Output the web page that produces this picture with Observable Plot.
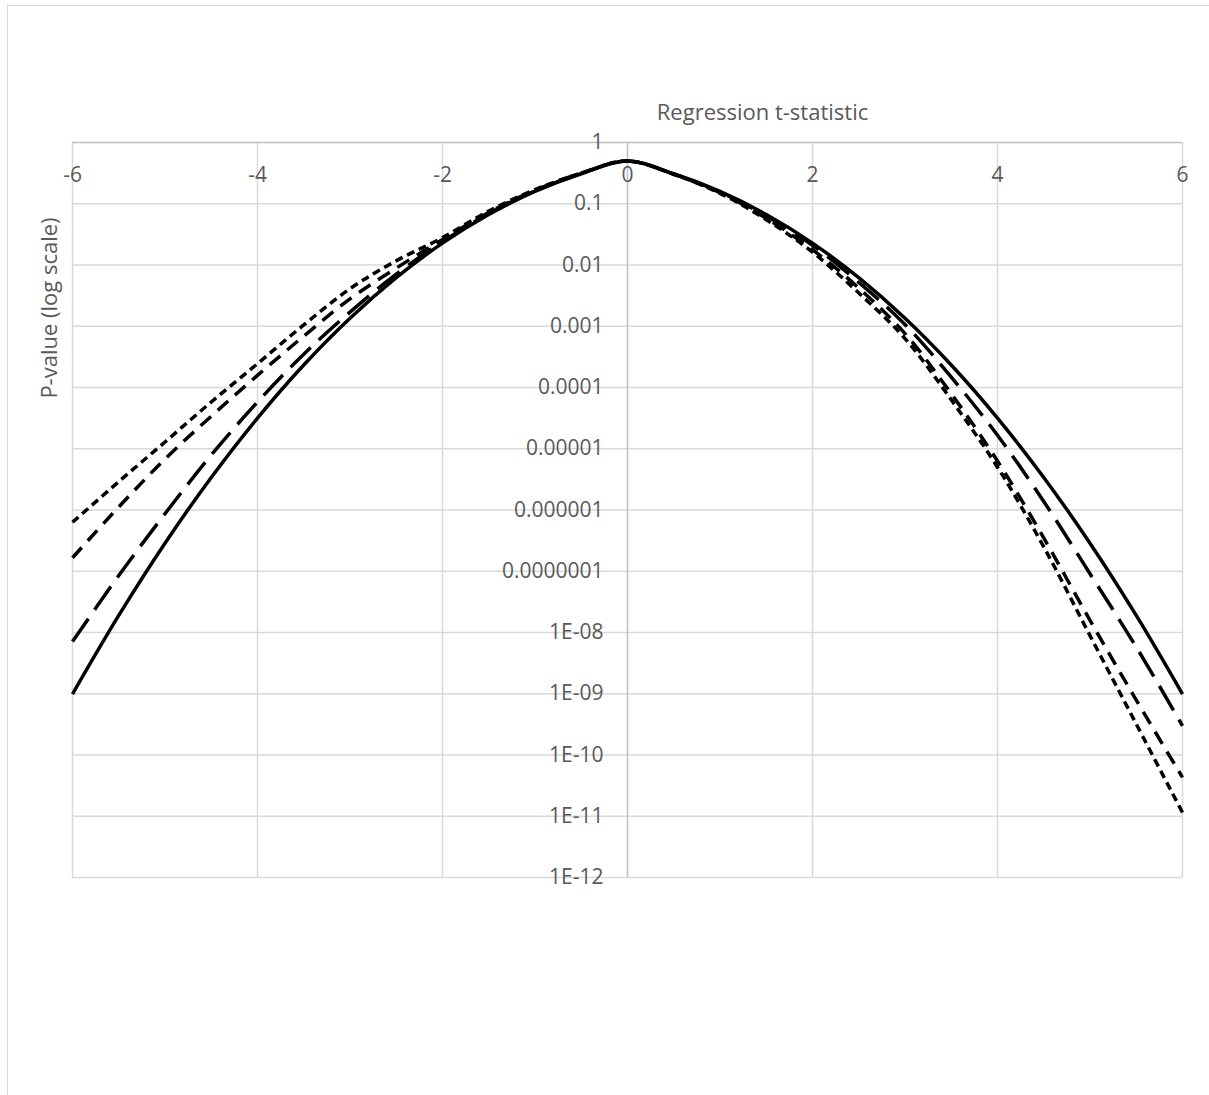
<!DOCTYPE html>
<html>
<head>
<meta charset="utf-8">
<script src="https://cdn.jsdelivr.net/npm/d3@7"></script>
<script src="https://cdn.jsdelivr.net/npm/@observablehq/plot@0.6"></script>
<style>
  html, body { margin: 0; padding: 0; background: #fff; }
  #wrap { position: relative; width: 1209px; height: 1095px; overflow: hidden; background: #fff; }
  #border { position: absolute; left: 7px; top: 5px; width: 1260px; height: 1200px; border: 1px solid #d9d9d9; box-sizing: border-box; z-index: 2; pointer-events: none; }
  #chart { position: absolute; left: 0; top: 0; z-index: 1; }
</style>
</head>
<body>
<div id="wrap"><div id="chart"></div><div id="border"></div></div>
<script>
// t-statistic values
const tValues = [-6, -5.5, -5, -4.5, -4, -3.5, -3, -2.5, -2, -1.5, -1, -0.5, 0, 0.5, 1, 1.5, 2, 2.5, 3, 3.5, 4, 4.5, 5, 5.5, 6];
// P-values for each series
const solidP = [9.9e-10, 1.9e-8, 2.87e-7, 3.4e-6, 3.17e-5, 2.33e-4, 1.35e-3, 6.2e-3, 2.28e-2, 6.68e-2, 0.159, 0.309, 0.5, 0.309, 0.159, 6.68e-2, 2.28e-2, 6.2e-3, 1.35e-3, 2.33e-4, 3.17e-5, 3.4e-6, 2.87e-7, 1.9e-8, 9.9e-10];
const longDashP = [7.1e-9, 8.5e-8, 8.7e-7, 7.9e-6, 5.8e-5, 3.5e-4, 1.7e-3, 7.1e-3, 2.4e-2, 6.9e-2, 0.162, 0.313, 0.5, 0.305, 0.155, 6.3e-2, 2.1e-2, 5.2e-3, 1.07e-3, 1.48e-4, 1.66e-5, 1.38e-6, 9.1e-8, 5.8e-9, 3.0e-10];
const dashP = [1.66e-7, 1.12e-6, 6.8e-6, 3.4e-5, 1.58e-4, 6.9e-4, 2.8e-3, 8.9e-3, 2.6e-2, 7.2e-2, 0.166, 0.316, 0.5, 0.302, 0.151, 5.8e-2, 1.78e-2, 4.2e-3, 7.6e-4, 7.9e-5, 6.3e-6, 3.5e-7, 1.58e-8, 7.9e-10, 4.3e-11];
const shortDashP = [6.3e-7, 2.9e-6, 1.29e-5, 5.8e-5, 2.45e-4, 1.05e-3, 4.1e-3, 1.17e-2, 2.8e-2, 7.6e-2, 0.17, 0.316, 0.5, 0.302, 0.148, 5.5e-2, 1.62e-2, 3.5e-3, 6.3e-4, 6.3e-5, 5.0e-6, 2.5e-7, 8.9e-9, 3.2e-10, 1.15e-11];

const xTicks = [-6, -4, -2, 0, 2, 4, 6];
const yTicks = [1, 0.1, 0.01, 0.001, 0.0001, 0.00001, 0.000001, 0.0000001, 1e-8, 1e-9, 1e-10, 1e-11, 1e-12];
const yTickLabels = ["1", "0.1", "0.01", "0.001", "0.0001", "0.00001", "0.000001", "0.0000001", "1E-08", "1E-09", "1E-10", "1E-11", "1E-12"];
const xTitle = "Regression t-statistic";
const yTitle = "P-value (log scale)";

const rows = (ps) => tValues.map((t, i) => ({t, p: ps[i]}));
const FONT = "Open Sans";
const TXT = "#595959";

const lineOpts = {x: "t", y: "p", stroke: "black", strokeWidth: 3.5, curve: "catmull-rom", strokeLinecap: "butt"};

const chart = Plot.plot({
  width: 1209,
  height: 1095,
  marginLeft: 72,
  marginRight: 27,
  marginTop: 142,
  marginBottom: 218,
  style: {fontFamily: FONT, background: "transparent", overflow: "visible"},
  x: {domain: [-6, 6], axis: null},
  y: {type: "log", domain: [1e-12, 1], axis: null},
  marks: [
    Plot.ruleY(yTicks.slice(1), {stroke: "#d9d9d9", strokeWidth: 1.5}),
    Plot.ruleX(xTicks.filter(d => d !== 0), {stroke: "#d9d9d9", strokeWidth: 1.5}),
    Plot.ruleY([1], {stroke: "#bfbfbf", strokeWidth: 1.5}),
    Plot.ruleX([0], {stroke: "#bfbfbf", strokeWidth: 1.5}),
    Plot.line(rows(shortDashP), {...lineOpts, strokeDasharray: "8,5"}),
    Plot.line(rows(dashP), {...lineOpts, strokeDasharray: "14,9"}),
    Plot.line(rows(longDashP), {...lineOpts, strokeDasharray: "28,11"}),
    Plot.line(rows(solidP), {...lineOpts}),
    Plot.text(xTicks, {x: d => d, y: 1, dy: 33, text: d => String(d), fill: TXT, fontSize: 21, fontFamily: FONT}),
    Plot.text(yTicks, {x: 0, y: d => d, dx: -24, text: (d, i) => yTickLabels[i], textAnchor: "end", fill: TXT, fontSize: 21, fontFamily: FONT}),
    Plot.text([xTitle], {frameAnchor: "top", dx: 135, dy: -30, text: d => d, textAnchor: "middle", lineAnchor: "middle", fill: TXT, fontSize: 22, fontFamily: FONT}),
    Plot.text([yTitle], {frameAnchor: "left", dx: -23, dy: -202, rotate: -90, text: d => d, textAnchor: "middle", lineAnchor: "middle", fill: TXT, fontSize: 22, fontFamily: FONT})
  ]
});
document.getElementById("chart").appendChild(chart);
</script>
</body>
</html>
